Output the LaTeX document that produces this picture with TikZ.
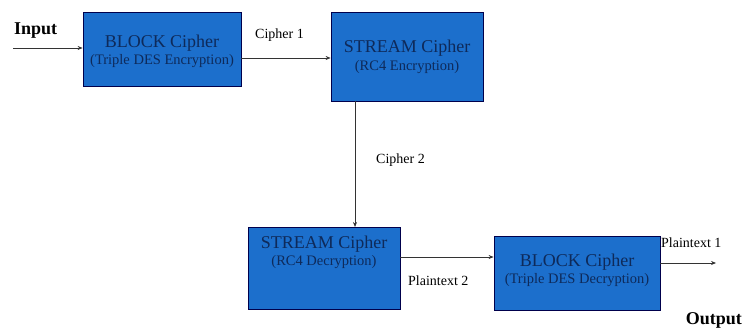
\documentclass[tikz,border=0pt]{standalone}
\usepackage{fontspec}
\setmainfont{Liberation Serif}
\usetikzlibrary{arrows.meta}
\definecolor{boxblue}{HTML}{1C6FCC}
\definecolor{boxtext}{HTML}{0E2A5A}
\begin{document}
\begin{tikzpicture}[x=1pt,y=-1pt,
  cbox/.style={draw=black!70!blue, line width=0.8pt, fill=boxblue, text=boxtext, align=center, inner sep=0pt},
  btxt/.style={text=boxtext, align=center, inner sep=0pt},
  conn/.style={draw=black!80, line width=0.7pt, -{Stealth[length=5pt,width=4pt]}},
  lab/.style={font=\fontsize{14}{16}\selectfont, inner sep=0pt},
  blab/.style={font=\fontsize{18}{21}\selectfont\bfseries, inner sep=0pt}]
\newcommand{\ttl}{\fontsize{18}{20}\selectfont}
\newcommand{\sub}{\fontsize{14.5}{16}\selectfont}
\useasboundingbox (0,0) rectangle (743,329);
\node[cbox, minimum width=158pt, minimum height=74pt] (b1) at (162,49) {};
\node[btxt] (b1t) at (162,51) {{\ttl BLOCK Cipher}\\[2pt]{\sub (Triple DES Encryption)}};
\node[cbox, minimum width=152pt, minimum height=89pt] (s1) at (407,56.5) {};
\node[btxt] (s1t) at (407,57) {{\ttl STREAM Cipher}\\[3pt]{\sub (RC4 Encryption)}};
\node[cbox, minimum width=152pt, minimum height=82pt] (s2) at (324,268) {};
\node[btxt] (s2t) at (324,252) {{\ttl STREAM Cipher}\\[2pt]{\sub (RC4 Decryption)}};
\node[cbox, minimum width=166pt, minimum height=74pt] (b2) at (577,273) {};
\node[btxt] (b2t) at (577,270) {{\ttl BLOCK Cipher}\\[2pt]{\sub (Triple DES Decryption)}};
\coordinate (in) at (13,48);
\coordinate (out) at (716,263);
\draw[conn] (in) -- (in -| b1.west);
\draw[conn] (b1.east |- 0,58) -- (s1.west |- 0,58);
\draw[conn] (355,101) -- (355,227);
\draw[conn] (s2.east |- 0,257) -- (b2.west |- 0,257);
\draw[conn] (b2.east |- out) -- (out);
\node[blab, anchor=west] (tin) at (14,31) {Input};
\node[lab, anchor=west] (tc1) at (255,35) {Cipher 1};
\node[lab, anchor=west] (tc2) at (376,160) {Cipher 2};
\node[lab, anchor=west] (tp2) at (408,281) {Plaintext 2};
\node[lab, anchor=west] (tp1) at (661,243) {Plaintext 1};
\node[blab, anchor=east] (tout) at (742,320) {Output};
\end{tikzpicture}
\end{document}
